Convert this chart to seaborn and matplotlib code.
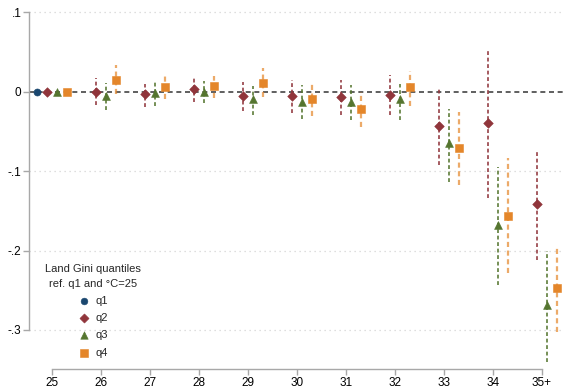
import numpy as np
import pandas as pd
import matplotlib
matplotlib.use("Agg")
import matplotlib.pyplot as plt
import seaborn as sns

# Temperature bins (°C) and coefficient estimates with 95% CIs per land-Gini quantile
temps = ["25", "26", "27", "28", "29", "30", "31", "32", "33", "34", "35+"]

q1_est = [0.0]

q2_est = [0.0, 0.000, -0.003, 0.003, -0.006, -0.006, -0.007, -0.004, -0.043, -0.039, -0.142]
q2_lo = [np.nan, -0.017, -0.019, -0.013, -0.024, -0.027, -0.029, -0.029, -0.093, -0.134, -0.212]
q2_hi = [np.nan, 0.017, 0.010, 0.017, 0.012, 0.015, 0.015, 0.021, 0.006, 0.054, -0.074]

q3_est = [0.0, -0.006, -0.002, 0.000, -0.010, -0.013, -0.013, -0.010, -0.065, -0.168, -0.269]
q3_lo = [np.nan, -0.023, -0.018, -0.015, -0.029, -0.035, -0.036, -0.036, -0.114, -0.243, -0.340]
q3_hi = [np.nan, 0.011, 0.012, 0.013, 0.007, 0.008, 0.008, 0.010, -0.022, -0.095, -0.200]

q4_est = [0.0, 0.015, 0.006, 0.007, 0.011, -0.010, -0.022, 0.006, -0.071, -0.156, -0.247]
q4_lo = [np.nan, -0.003, -0.009, -0.008, -0.007, -0.031, -0.045, -0.018, -0.118, -0.228, -0.303]
q4_hi = [np.nan, 0.033, 0.019, 0.020, 0.029, 0.012, -0.001, 0.026, -0.026, -0.084, -0.194]

groups = ["q1", "q2", "q3", "q4"]
y_ticks = [0.1, 0.0, -0.1, -0.2, -0.3]
y_labels = [".1", "0", "-.1", "-.2", "-.3"]
legend_title = "Land Gini quantiles\nref. q1 and °C=25"

colors = {"q1": "#1a476f", "q2": "#90353b", "q3": "#55752f", "q4": "#e4862a"}
markers = {"q1": "o", "q2": "D", "q3": "^", "q4": "s"}
sizes = {"q1": 26, "q2": 24, "q3": 32, "q4": 30}
offsets = {"q1": -0.3, "q2": -0.1, "q3": 0.1, "q4": 0.3}

series = {
    "q1": (q1_est, [np.nan], [np.nan]),
    "q2": (q2_est, q2_lo, q2_hi),
    "q3": (q3_est, q3_lo, q3_hi),
    "q4": (q4_est, q4_lo, q4_hi),
}

rows = []
for g in groups:
    est, lo, hi = series[g]
    for i, (e, l, h) in enumerate(zip(est, lo, hi)):
        rows.append({"group": g, "pos": i + offsets[g], "est": e, "lo": l, "hi": h})
df = pd.DataFrame(rows)

sns.set_style("white")
plt.rcParams["font.family"] = ["Liberation Sans", "DejaVu Sans"]

W, H = 564, 389
fig = plt.figure(figsize=(W / 100, H / 100), dpi=100)
ax = fig.add_axes([29 / W, 20 / H, (563 - 29) / W, (384 - 20) / H])

# confidence intervals as dashed vertical segments
for g in groups:
    d = df[(df.group == g) & df.lo.notna()]
    if d.empty:
        continue
    alpha = 0.7 if g == "q4" else 0.95
    lw = 1.6 if g == "q4" else 1.2
    ax.vlines(d.pos, d.lo, d.hi, colors=colors[g], linestyles=(0, (2.3, 1.6)),
              linewidth=lw, alpha=alpha, zorder=2)

# zero reference line
ax.axhline(0, color="#444444", linestyle=(0, (3.0, 2.2)), linewidth=1.2, zorder=1)

# dotted grid at the non-zero ticks
for yt in y_ticks:
    if yt != 0:
        ax.axhline(yt, color="#d4d4d4", linestyle=(0, (1, 3)), linewidth=0.9, zorder=0)

for g in groups:
    d = df[df.group == g]
    sns.scatterplot(data=d, x="pos", y="est", ax=ax, color=colors[g],
                    marker=markers[g], s=sizes[g], edgecolor=colors[g],
                    linewidth=0.4, label=g, zorder=3)

ax.set_xlim(-0.47, 10.43)
ax.set_ylim(-0.3 - 39 / 795, 0.1 + 7 / 795)
ax.set_xticks(range(len(temps)))
ax.set_xticklabels(temps)
ax.set_yticks(y_ticks)
ax.set_yticklabels(y_labels)
ax.set_xlabel("")
ax.set_ylabel("")

for s in ["top", "right"]:
    ax.spines[s].set_visible(False)
ax.spines["left"].set_bounds(-0.3, 0.1)
ax.spines["bottom"].set_bounds(0, len(temps) - 1)
for s in ["left", "bottom"]:
    ax.spines[s].set_color("#a8a8a8")
    ax.spines[s].set_linewidth(1.0)
ax.tick_params(axis="both", which="both", length=4, width=1.0, color="#a8a8a8",
               labelsize=8.5, labelcolor="black", pad=1.5, direction="out",
               left=True, bottom=True)

leg = ax.legend(title=legend_title, loc="lower left",
                bbox_to_anchor=(41 / W, 27 / H), bbox_transform=fig.transFigure,
                frameon=False, fontsize=8, title_fontsize=8,
                labelspacing=0.65, handletextpad=0.5, handlelength=1.0,
                borderaxespad=0, markerscale=0.95)
leg._legend_box.align = "center"
leg.get_title().set_multialignment("center")
leg.get_title().set_linespacing(1.6)

fig.savefig("out.png", dpi=100, facecolor="white")
